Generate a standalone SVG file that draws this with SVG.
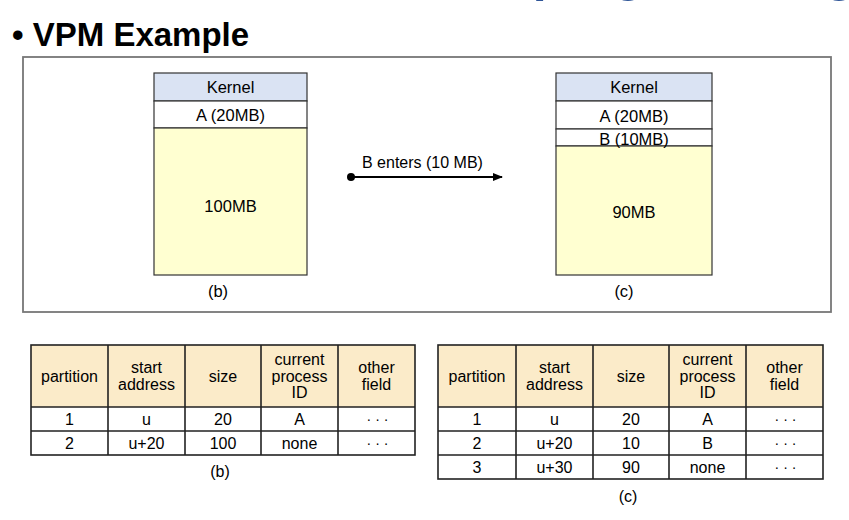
<svg xmlns="http://www.w3.org/2000/svg" width="849" height="520" viewBox="0 0 849 520">
  <style>
    text { font-family: "Liberation Sans", Arial, sans-serif; fill: #000; }
    .title { font-size: 33px; font-weight: bold; }
    .heading { font-size: 50px; font-weight: bold; fill: #2F5597; }
    .lbl { font-size: 16.5px; text-anchor: middle; }
    .arrowlbl { font-size: 16px; }
    .cell { font-size: 16px; text-anchor: middle; }
    .dots { font-size: 14px; text-anchor: middle; }
    .kernel { fill: #DAE3F3; stroke: #333; stroke-width: 1.2; }
    .proc { fill: #FFFFFF; stroke: #333; stroke-width: 1.2; }
    .free { fill: #FFFFD1; stroke: #333; stroke-width: 1.2; }
    .frame { fill: none; stroke: #777; stroke-width: 1.8; }
    .hdr { fill: #FBEBC9; }
    .grid { fill: none; stroke: #222; stroke-width: 1.6; }
  </style>
  <defs>
    <marker id="arrowhead" markerWidth="10" markerHeight="8" refX="9" refY="4" orient="auto" markerUnits="userSpaceOnUse">
      <path d="M0,0 L10,4 L0,8 Z" fill="#000"/>
    </marker>
  </defs>

  <rect width="849" height="520" fill="#FFFFFF"/>

  <!-- slide heading, mostly above the visible area -->
  <text class="heading" x="416" y="-9">Multiprogramming</text>

  <!-- bullet title -->
  <text class="title" x="12" y="46">• VPM Example</text>

  <!-- frame around the memory maps -->
  <rect class="frame" x="23" y="57" width="808" height="255"/>

  <!-- memory map (b) -->
  <g id="memory-b">
    <rect class="kernel" x="154" y="73" width="153" height="28"/>
    <rect class="proc" x="154" y="101" width="153" height="27"/>
    <rect class="free" x="154" y="128" width="153" height="147"/>
    <text class="lbl" x="230.5" y="93">Kernel</text>
    <text class="lbl" x="230.5" y="121">A (20MB)</text>
    <text class="lbl" x="230.5" y="212">100MB</text>
    <text class="lbl" x="218" y="297">(b)</text>
  </g>

  <!-- memory map (c) -->
  <g id="memory-c">
    <rect class="kernel" x="556" y="73" width="156" height="28"/>
    <rect class="proc" x="556" y="101" width="156" height="28"/>
    <rect class="proc" x="556" y="129" width="156" height="17"/>
    <rect class="free" x="556" y="146" width="156" height="129"/>
    <text class="lbl" x="634" y="93">Kernel</text>
    <text class="lbl" x="634" y="122">A (20MB)</text>
    <text class="lbl" x="634" y="145">B (10MB)</text>
    <text class="lbl" x="634" y="218">90MB</text>
    <text class="lbl" x="624" y="297">(c)</text>
  </g>

  <!-- transition connector -->
  <g id="connectors">
    <circle cx="351" cy="177" r="4" fill="#000"/>
    <line x1="351" y1="177" x2="502" y2="177" stroke="#000" stroke-width="2" marker-end="url(#arrowhead)"/>
    <text class="arrowlbl" x="362" y="168">B enters (10 MB)</text>
  </g>

  <!-- partition table (b) -->
  <g id="table-b">
    <rect class="hdr" x="31" y="345" width="384" height="62"/>
    <rect x="31" y="407" width="384" height="48" fill="#FFFFFF"/>
    <rect class="grid" x="31" y="345" width="384" height="110"/>
    <path class="grid" d="M108,345 V455 M185,345 V455 M261,345 V455 M338,345 V455 M31,407 H415 M31,431 H415"/>
    <text class="cell" x="69.5" y="382">partition</text>
    <text class="cell" x="146.5" y="373">start</text>
    <text class="cell" x="146.5" y="390">address</text>
    <text class="cell" x="223" y="382">size</text>
    <text class="cell" x="299.5" y="365">current</text>
    <text class="cell" x="299.5" y="381.5">process</text>
    <text class="cell" x="299.5" y="398">ID</text>
    <text class="cell" x="376.5" y="373">other</text>
    <text class="cell" x="376.5" y="390">field</text>
    <text class="cell" x="69.5" y="425">1</text>
    <text class="cell" x="146.5" y="425">u</text>
    <text class="cell" x="223" y="425">20</text>
    <text class="cell" x="299.5" y="425">A</text>
    <text class="dots" x="377.5" y="424">· · ·</text>
    <text class="cell" x="69.5" y="449">2</text>
    <text class="cell" x="146.5" y="449">u+20</text>
    <text class="cell" x="223" y="449">100</text>
    <text class="cell" x="299.5" y="449">none</text>
    <text class="dots" x="377.5" y="448">· · ·</text>
    <text class="cell" x="220" y="477">(b)</text>
  </g>

  <!-- partition table (c) -->
  <g id="table-c">
    <rect class="hdr" x="438" y="345" width="385" height="62"/>
    <rect x="438" y="407" width="385" height="72" fill="#FFFFFF"/>
    <rect class="grid" x="438" y="345" width="385" height="134"/>
    <path class="grid" d="M516,345 V479 M593,345 V479 M669,345 V479 M746,345 V479 M438,407 H823 M438,431 H823 M438,455 H823"/>
    <text class="cell" x="477" y="382">partition</text>
    <text class="cell" x="554.5" y="373">start</text>
    <text class="cell" x="554.5" y="390">address</text>
    <text class="cell" x="631" y="382">size</text>
    <text class="cell" x="707.5" y="365">current</text>
    <text class="cell" x="707.5" y="381.5">process</text>
    <text class="cell" x="707.5" y="398">ID</text>
    <text class="cell" x="784.5" y="373">other</text>
    <text class="cell" x="784.5" y="390">field</text>
    <text class="cell" x="477" y="425">1</text>
    <text class="cell" x="554.5" y="425">u</text>
    <text class="cell" x="631" y="425">20</text>
    <text class="cell" x="707.5" y="425">A</text>
    <text class="dots" x="785.5" y="424">· · ·</text>
    <text class="cell" x="477" y="449">2</text>
    <text class="cell" x="554.5" y="449">u+20</text>
    <text class="cell" x="631" y="449">10</text>
    <text class="cell" x="707.5" y="449">B</text>
    <text class="dots" x="785.5" y="448">· · ·</text>
    <text class="cell" x="477" y="473">3</text>
    <text class="cell" x="554.5" y="473">u+30</text>
    <text class="cell" x="631" y="473">90</text>
    <text class="cell" x="707.5" y="473">none</text>
    <text class="dots" x="785.5" y="472">· · ·</text>
    <text class="cell" x="628" y="502">(c)</text>
  </g>
</svg>
